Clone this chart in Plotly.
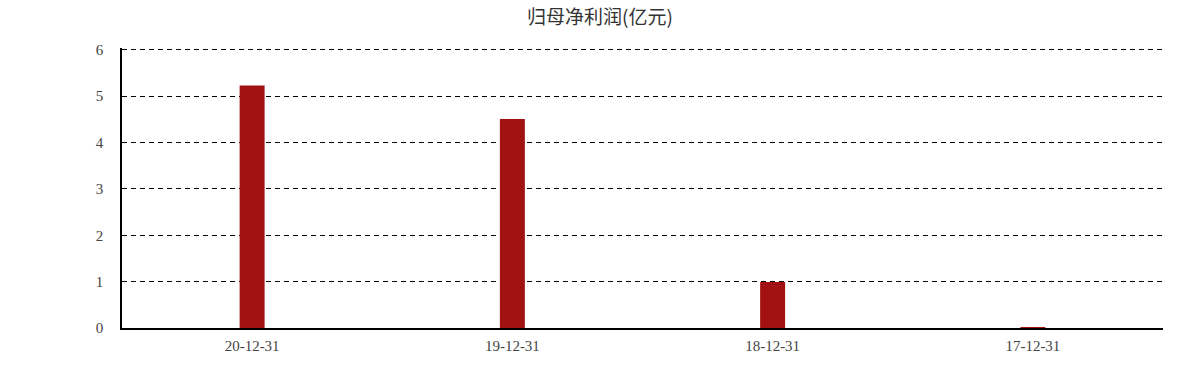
import plotly.graph_objects as go

categories = ["20-12-31", "19-12-31", "18-12-31", "17-12-31"]
values = [5.23, 4.51, 0.99, 0.02]
title_text = "归母净利润(亿元)"

fig = go.Figure()
fig.add_trace(go.Bar(
    x=categories, y=values,
    marker=dict(color="#A31212", line=dict(width=0)),
    width=0.096,
))
fig.update_layout(
    width=1200, height=372,
    margin=dict(l=122, r=37, t=48, b=44),
    paper_bgcolor="white", plot_bgcolor="white",
    title=dict(text=title_text, x=0.5, xanchor="center", y=0.953, yanchor="middle",
               font=dict(family="Noto Sans CJK SC", size=19, color="#333")),
    showlegend=False,
    xaxis=dict(
        type="category", range=[-0.5, 3.5],
        showline=True, linecolor="black", linewidth=1.5,
        showgrid=False, ticks="", ticklabelstandoff=3,
        tickfont=dict(family="Liberation Serif", size=15, color="#444"),
    ),
    yaxis=dict(
        range=[0, 6.04], tickvals=[0, 1, 2, 3, 4, 5, 6],
        showline=True, linecolor="black", linewidth=1.5,
        showgrid=True, gridcolor="black", griddash="5px,4px", gridwidth=1,
        zeroline=False, ticks="", ticklabelstandoff=14,
        tickfont=dict(family="Liberation Serif", size=15, color="#444"),
    ),
)
fig.write_html("out.html")
